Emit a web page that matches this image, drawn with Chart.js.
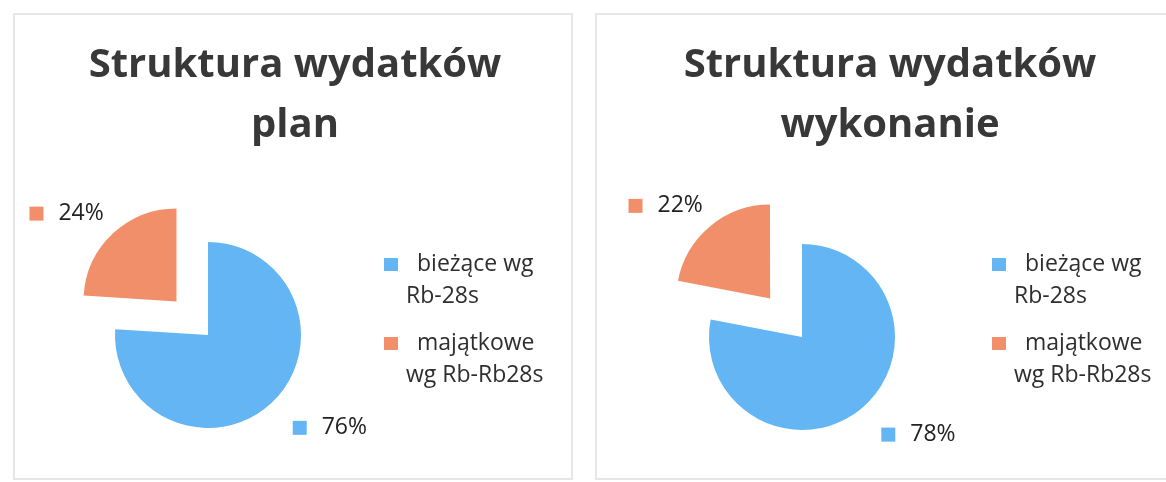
<!DOCTYPE html>
<html>
<head>
<meta charset="utf-8">
<script src="https://cdn.jsdelivr.net/npm/chart.js@4.4.1/dist/chart.umd.min.js"></script>
<style>
  body { margin: 0; background: #fff; width: 1166px; height: 482px; overflow: hidden; position: relative; }
  .panel { position: absolute; top: 13px; height: 463px; border: 2px solid #e6e6e6; background: #fff; }
  #panel-plan { left: 13px; width: 556px; }
  #panel-wyk { left: 595px; width: 582px; }
  canvas { display: block; }
</style>
</head>
<body>
<div class="panel" id="panel-plan"><canvas id="chart-plan" width="556" height="463"></canvas></div>
<div class="panel" id="panel-wyk"><canvas id="chart-wyk" width="582" height="463"></canvas></div>
<script>
const categories = ['bieżące wg Rb-28s', 'majątkowe wg Rb-Rb28s'];
const legendLines = [['bieżące wg', 'Rb-28s'], ['majątkowe', 'wg Rb-Rb28s']];
const planValues = [76, 24];
const wykonanieValues = [78, 22];
const planTitle = ['Struktura wydatków', 'plan'];
const wykonanieTitle = ['Struktura wydatków', 'wykonanie'];
const colors = ['#63b6f3', '#f28f6b'];

// Chart.js moves an arc by offset / 4
const OFFSET_SCALE = 4;

// draws title, wrapped legend and the "■ 76%" data labels
const panelText = {
  id: 'panelText',
  afterDraw(chart, args, opts) {
    const ctx = chart.ctx;
    const w = chart.width;
    ctx.save();

    ctx.fillStyle = '#383838';
    ctx.font = 'bold 40px "Open Sans"';
    ctx.textAlign = 'center';
    ctx.textBaseline = 'alphabetic';
    opts.title.forEach((line, i) => ctx.fillText(line, w / 2 + 2, 62 + i * 60));

    // legend on the right
    ctx.font = '23px "Open Sans"';
    ctx.textAlign = 'left';
    ctx.textBaseline = 'middle';
    const lx = w - 187;
    legendLines.forEach((lines, i) => {
      const top = 243 + i * 79;
      ctx.fillStyle = colors[i];
      ctx.fillRect(lx, top, 14, 13);
      ctx.fillStyle = '#2e2e2e';
      ctx.fillText(lines[0], lx + 33, top + 6);
      ctx.fillText(lines[1], lx + 22, top + 38);
    });

    // data labels outside the slices
    const meta = chart.getDatasetMeta(0);
    const values = chart.data.datasets[0].data;
    const total = values.reduce((a, b) => a + b, 0);
    meta.data.forEach((arc, i) => {
      const p = arc.getProps(['x', 'y', 'startAngle', 'endAngle', 'outerRadius'], true);
      const mid = (p.startAngle + p.endAngle) / 2;
      const off = (arc.options.offset || 0) / OFFSET_SCALE;
      const dx = Math.cos(mid), dy = Math.sin(mid);
      const dist = off + p.outerRadius + 22;
      const px = p.x + dx * dist;
      const py = p.y + dy * dist;
      const text = Math.round(values[i] / total * 100) + '%';
      const tw = ctx.measureText(text).width;
      const boxW = 14 + 15 + tw;
      const left = (dx < 0 ? px - boxW : px) + 6;
      const cy = dy < 0 ? py - 4 : py + 9;
      ctx.fillStyle = colors[i];
      ctx.fillRect(left, cy - 7, 14, 14);
      ctx.fillStyle = '#222';
      ctx.fillText(text, left + 29, cy);
    });
    ctx.restore();
  }
};

function makePie(id, values, title, center, radius, explode) {
  const el = document.getElementById(id);
  const half = radius + 10;
  return new Chart(el, {
    type: 'pie',
    data: {
      labels: categories,
      datasets: [{
        data: values,
        backgroundColor: colors,
        borderWidth: 0,
        offset: [0, explode * OFFSET_SCALE],
        hoverOffset: 0
      }]
    },
    options: {
      responsive: false,
      animation: false,
      events: [],
      radius: radius,
      layout: {
        padding: {
          left: center[0] - half,
          right: el.width - center[0] - half,
          top: center[1] - half,
          bottom: el.height - center[1] - half
        }
      },
      plugins: {
        legend: { display: false },
        title: { display: false },
        tooltip: { enabled: false },
        panelText: { title: title }
      }
    },
    plugins: [panelText]
  });
}

makePie('chart-plan', planValues, planTitle, [193, 320], 93, 46);
makePie('chart-wyk', wykonanieValues, wykonanieTitle, [205, 322], 93, 50);
</script>
</body>
</html>
